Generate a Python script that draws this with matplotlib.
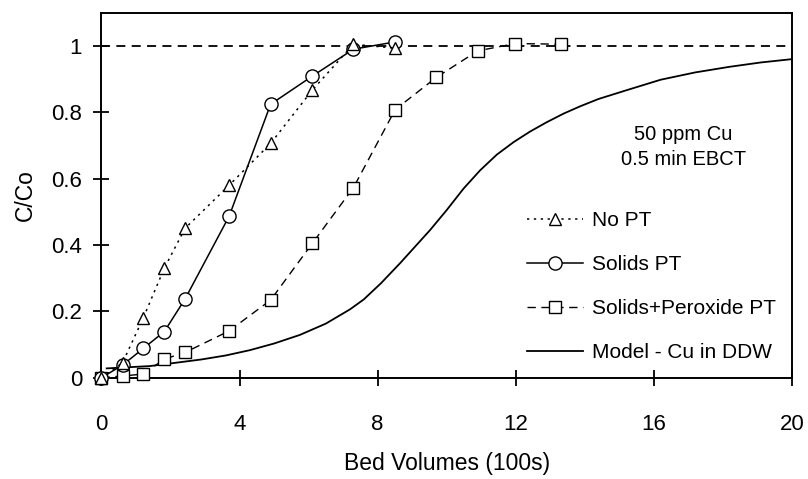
import matplotlib
matplotlib.use("Agg")
import matplotlib.pyplot as plt

plt.rcParams['font.family'] = ['Liberation Sans', 'DejaVu Sans']

bv_exp = [0, 0.61, 1.21, 1.82, 2.42, 3.70, 4.90, 6.11, 7.30, 8.51]
no_pt = [0, 0.045, 0.18, 0.33, 0.45, 0.58, 0.706, 0.867, 1.005, 0.993]
solids_pt = [0, 0.038, 0.088, 0.139, 0.237, 0.487, 0.824, 0.909, 0.99, 1.012]

bv_perox = [0, 0.61, 1.21, 1.82, 2.42, 3.70, 4.90, 6.11, 7.30, 8.51, 9.70, 10.90, 11.99, 13.32]
solids_perox = [0, 0.005, 0.011, 0.056, 0.076, 0.141, 0.234, 0.405, 0.573, 0.808, 0.905, 0.985, 1.007, 1.005]

bv_model = [0.15, 1.4, 2.9, 3.6, 4.3, 5.0, 5.75, 6.5, 7.2, 7.6, 8.1, 8.65, 9.52, 10.0, 10.49,
            10.97, 11.45, 11.94, 12.42, 12.9, 13.39, 13.87, 14.4, 15.2, 16.2, 17.2, 18.2, 19.1, 20.0]
model = [0.028, 0.035, 0.055, 0.067, 0.083, 0.103, 0.129, 0.163, 0.206, 0.236, 0.285, 0.345,
         0.445, 0.505, 0.57, 0.625, 0.672, 0.71, 0.742, 0.77, 0.796, 0.818, 0.84, 0.866, 0.898,
         0.92, 0.937, 0.95, 0.96]

x_ticks = [0, 4, 8, 12, 16, 20]
y_ticks = [0, 0.2, 0.4, 0.6, 0.8, 1.0]
y_tick_labels = ["0", "0.2", "0.4", "0.6", "0.8", "1"]

fig = plt.figure(figsize=(8.08, 4.79), dpi=100)
ax = fig.add_axes([0.1256, 0.2115, 0.8544, 0.762])

ax.plot([0, 20], [1, 1], color='black', lw=1.3, linestyle=(0, (5, 3.5)), clip_on=False)

ax.plot(bv_model, model, color='black', lw=1.3, label='Model - Cu in DDW', zorder=2)
ax.plot(bv_perox, solids_perox, color='black', lw=1.0, linestyle=(0, (6, 4)), marker='s',
        markersize=8.5, markerfacecolor='white', markeredgecolor='black', markeredgewidth=1.0,
        label='Solids+Peroxide PT', zorder=3, clip_on=False)
ax.plot(bv_exp, solids_pt, color='black', lw=1.1, linestyle='-', marker='o',
        markersize=9.5, markerfacecolor='white', markeredgecolor='black', markeredgewidth=1.0,
        label='Solids PT', zorder=4, clip_on=False)
ax.plot(bv_exp, no_pt, color='black', lw=1.1, linestyle=(0, (1.5, 3)), marker='^',
        markersize=8.5, markerfacecolor='white', markeredgecolor='black', markeredgewidth=1.0,
        label='No PT', zorder=5, clip_on=False)

ax.set_xlim(0, 20)
ax.set_ylim(0, 1.1)
ax.set_xticks(x_ticks)
ax.set_xticklabels([str(t) for t in x_ticks])
ax.set_yticks(y_ticks)
ax.set_yticklabels(y_tick_labels)
ax.tick_params(direction='inout', length=11, width=1.3, labelsize=16)
ax.tick_params(axis='y', pad=8.5)
ax.tick_params(axis='x', pad=21)
for s in ax.spines.values():
    s.set_linewidth(1.4)

ax.set_xlabel('Bed Volumes (100s)', fontsize=16.5, labelpad=12)
ax.set_ylabel('C/Co', fontsize=16.5, labelpad=10)

ax.text(16.85, 0.695, '50 ppm Cu\n0.5 min EBCT', ha='center', va='center', fontsize=14.5,
        linespacing=1.35)

handles, labels = ax.get_legend_handles_labels()
order = [3, 2, 1, 0]
leg = ax.legend([handles[i] for i in order], [labels[i] for i in order],
                loc='upper left', bbox_to_anchor=(0.6165, 0.456), frameon=False, fontsize=15,
                handlelength=2.7, handletextpad=0.4, labelspacing=1.2, borderpad=0,
                borderaxespad=0)

fig.savefig('out.png', dpi=100)
